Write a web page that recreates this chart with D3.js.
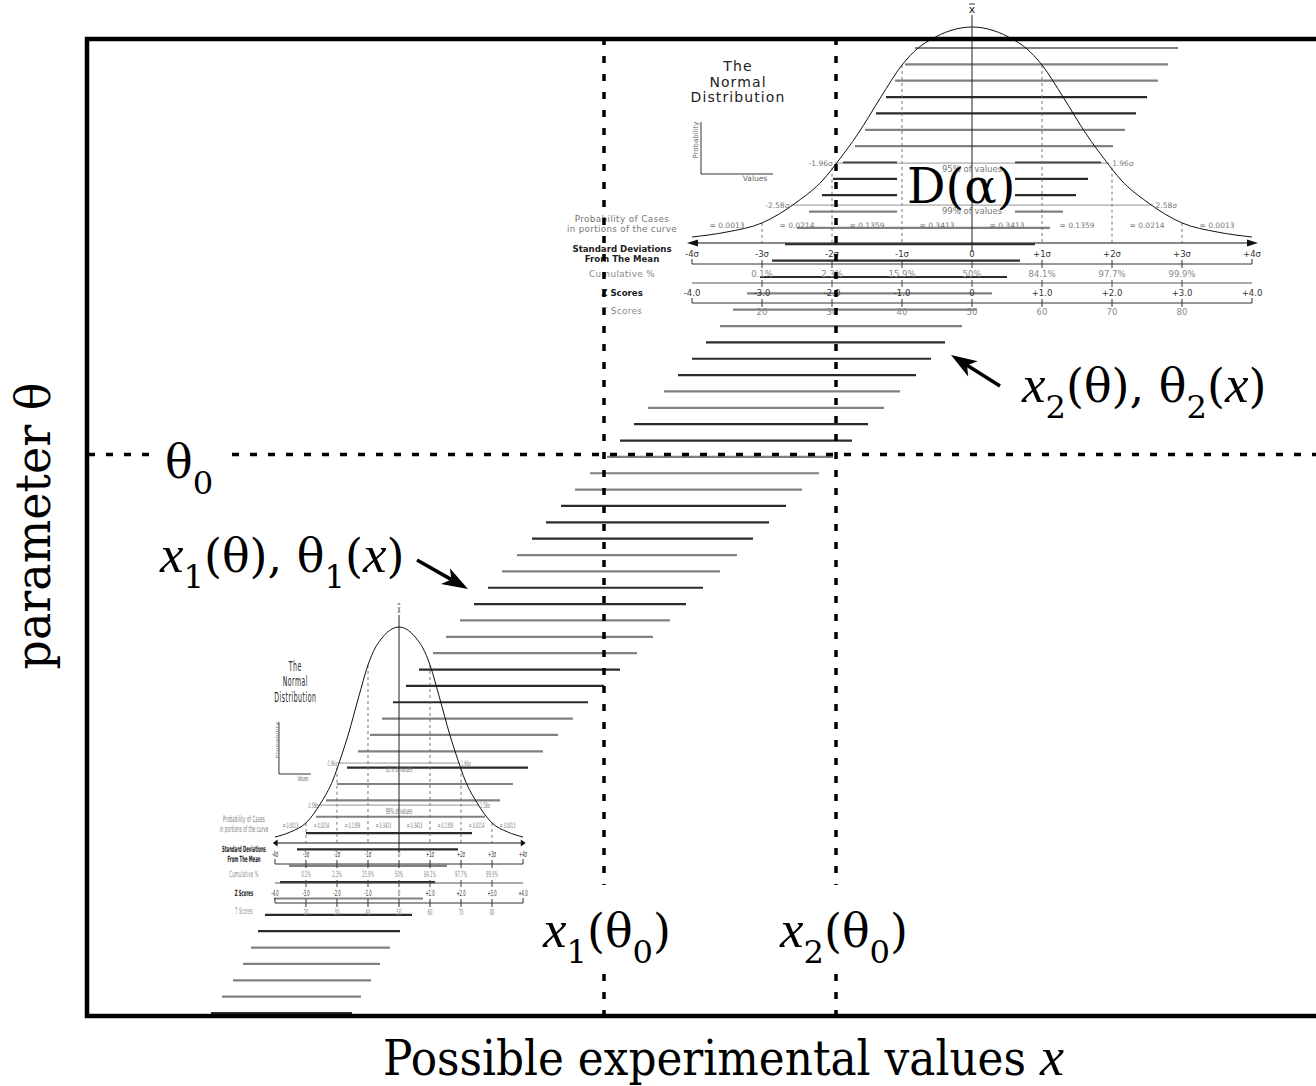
<!DOCTYPE html>
<html><head><meta charset="utf-8">
<script src="https://cdn.jsdelivr.net/npm/d3@7"></script>
<style>body{margin:0;background:#fff}</style>
</head><body>
<svg id="c" width="1316" height="1086"></svg>
<script>
// ---------------- DATA ----------------
// confidence belt: one horizontal segment per parameter value (bottom -> top)
const lowerX = [125,136,147,157,165,172,179,188,194,203,211,220,230,240,251,261,272,284,296,307,320,333,347,360,374,388,402,416,431,446,460,475,489,504,521,534,548,562,578,592,606,620,634,647,661,674,686,699,711,723,736,747,757,769,779,790,800,809,819,829];
const upperX = [266,275,285,294,304,314,326,337,349,361,372,386,399,414,427,442,457,472,487,502,518,534,551,567,584,600,617,634,651,667,683,700,716,733,747,766,782,798,814,830,845,859,876,891,906,921,934,949,964,977,990,1002,1015,1027,1039,1050,1061,1072,1082,1092];
const shade = "dggggddgdgddgggdgggdddgggddggdddgggddggdddgggdddggdddggddggg".split("");
const theta0 = 34.15;
const x1Theta0 = 518, x2Theta0 = 750;

// normal distribution inset
const titleLines = ["The","Normal","Distribution"];
const sigmaLabels = ["-4σ","-3σ","-2σ","-1σ","0","+1σ","+2σ","+3σ","+4σ"];
const probLabels = ["= 0.0013","= 0.0214","= 0.1359","= 0.3413","= 0.3413","= 0.1359","= 0.0214","= 0.0013"];
const cumLabels = ["0.1%","2.3%","15.9%","50%","84.1%","97.7%","99.9%"];
const zLabels = ["-4.0","-3.0","-2.0","-1.0","0","+1.0","+2.0","+3.0","+4.0"];
const tLabels = ["20","30","40","50","60","70","80"];
const curveZ = [-4,-3.5,-3,-2.5,-2.13,-1.9,-1.64,-1.3,-1,-0.77,-0.6,0,0.6,0.77,1,1.3,1.64,1.9,2.13,2.5,3,3.5,4];
const curveH = [0,0.024,0.067,0.167,0.271,0.367,0.486,0.667,0.819,0.90,0.938,1,0.938,0.90,0.819,0.667,0.486,0.367,0.271,0.167,0.067,0.024,0];
const guideZ = [-3,-2,-1,1,2,3];
const guideH = [0.067,0.33,0.819,0.819,0.33,0.067];
const intervals = [{z:1.96,h:0.352,pct:"95% of values"},{z:2.58,h:0.152,pct:"99% of values"}];

// ---------------- DRAW ----------------
const SERIF = "'DejaVu Serif', 'Liberation Serif', serif";
const ITAL = "'Liberation Serif', 'DejaVu Serif', serif";
const SANS = "'DejaVu Sans', Verdana, sans-serif";
const svg = d3.select("#c");
const xS = d3.scaleLinear().domain([0,1230]).range([86,1316]);
const tS = d3.scaleLinear().domain([0,59]).range([1013,48]);

// belt segments
svg.append("g").selectAll("line")
  .data(lowerX.map((lo,i)=>({lo, hi:upperX[i], th:i, s:shade[i]})))
  .join("line")
  .attr("x1",d=>xS(d.lo)).attr("x2",d=>xS(d.hi))
  .attr("y1",d=>tS(d.th)).attr("y2",d=>tS(d.th))
  .attr("stroke",d=>d.s==="d"?"#2b2b2b":"#818181")
  .attr("stroke-width",2.2);

// white box behind D(alpha)
svg.append("rect").attr("x",897).attr("y",157).attr("width",118).attr("height",59).attr("fill","#fff");

function drawInset(g){
  const zx = d3.scaleLinear().domain([-4,4]).range([-280,280]);
  const hy = d3.scaleLinear().domain([0,1]).range([237,27]);
  const NS = "non-scaling-stroke";
  const txt = (t,x,y,size,fill,opts={})=>{
    const e = g.append("text").attr("x",x).attr("y",y).text(t)
      .attr("font-family",SANS).attr("font-size",size).attr("fill",fill)
      .attr("text-anchor",opts.anchor||"middle");
    if(opts.bold) e.attr("font-weight","bold");
    if(opts.ls) e.attr("letter-spacing",opts.ls);
    return e;
  };
  const ln = (x1,y1,x2,y2,stroke,w,dash)=>{
    const e = g.append("line").attr("x1",x1).attr("y1",y1).attr("x2",x2).attr("y2",y2)
      .attr("stroke",stroke).attr("stroke-width",w).attr("vector-effect",NS);
    if(dash) e.attr("stroke-dasharray",dash);
    return e;
  };
  // title
  titleLines.forEach((t,i)=>txt(t,-234,71+i*15.5,14,"#222",{ls:1.1}));
  // small probability/values axes
  ln(-271,122,-271,174,"#333",1); ln(-271,174,-199,174,"#333",1);
  g.append("text").attr("transform","translate(-274,140) rotate(-90)").attr("text-anchor","middle")
    .attr("font-family",SANS).attr("font-size",7).attr("fill","#666").text("Probability");
  txt("Values",-217,181,7.5,"#666");
  // dashed guides
  guideZ.forEach((z,i)=>ln(zx(z),hy(guideH[i]),zx(z),243,"#666",0.9,"3,3"));
  // interval lines
  intervals.forEach(iv=>{
    ln(zx(-iv.z),hy(iv.h),zx(iv.z),hy(iv.h),"#888",0.9);
    txt("-"+iv.z+"σ",zx(-iv.z)-2,hy(iv.h)+3,7.5,"#777",{anchor:"end"});
    txt(iv.z+"σ",zx(iv.z)+3,hy(iv.h)+3,7.5,"#777",{anchor:"start"});
    txt(iv.pct,0,hy(iv.h)+9,8.5,"#777");
  });
  // curve
  const pts = curveZ.map((z,i)=>({z,h:curveH[i]}));
  g.append("path").attr("d",d3.line().x(d=>zx(d.z)).y(d=>hy(d.h)).curve(d3.curveMonotoneX)(pts))
    .attr("fill","none").attr("stroke","#111").attr("stroke-width",1).attr("vector-effect",NS);
  // mean axis
  ln(0,15,0,252,"#222",1);
  txt("x",0,13,11,"#222"); ln(-3,4,3,4,"#222",0.9);
  // baseline with arrows
  ln(zx(-4)-2,243,zx(4)+2,243,"#111",1.1);
  g.append("path").attr("d",`M${zx(-4)-5},243 L${zx(-4)+6},239.5 L${zx(-4)+6},246.5 Z`).attr("fill","#111");
  g.append("path").attr("d",`M${zx(4)+6},243 L${zx(4)-5},239.5 L${zx(4)-5},246.5 Z`).attr("fill","#111");
  // probability of cases row
  txt("Probability of Cases",-350,222,8.8,"#777",{ls:0.4});
  txt("in portions of the curve",-350,232,8.8,"#777",{ls:0.3});
  probLabels.forEach((t,i)=>txt(t,zx(-3.5+i),228,7.5,"#777"));
  // standard deviations row
  txt("Standard Deviations",-350,252,8.6,"#222",{bold:true});
  txt("From The Mean",-350,262,8.6,"#222",{bold:true});
  sigmaLabels.forEach((t,i)=>txt(t,zx(i-4),257,8.5,"#333"));
  ln(zx(-4),264,zx(4),264,"#333",1);
  sigmaLabels.forEach((t,i)=>{const z=i-4; if(Math.abs(z)===4) ln(zx(z),259,zx(z),264,"#333",1); else ln(zx(z),260,zx(z),268,"#333",1);});
  // cumulative row
  txt("Cumulative %",-350,277,8.8,"#888",{ls:0.4});
  cumLabels.forEach((t,i)=>txt(t,zx(i-3),277,8.5,"#888"));
  ln(zx(-4),283,zx(4),283,"#555",1);
  cumLabels.forEach((t,i)=>ln(zx(i-3),280,zx(i-3),287,"#444",1));
  // Z scores row
  txt("Z Scores",-350,296,8.6,"#222",{bold:true});
  zLabels.forEach((t,i)=>txt(t,zx(i-4),296,8.5,"#333"));
  ln(zx(-4),303,zx(4),303,"#333",1);
  zLabels.forEach((t,i)=>{const z=i-4; if(Math.abs(z)===4) ln(zx(z),298,zx(z),303,"#333",1); else ln(zx(z),299,zx(z),307,"#333",1);});
  // T scores row
  txt("T Scores",-350,314,8.8,"#888",{ls:0.4});
  tLabels.forEach((t,i)=>txt(t,zx(i-3),315,8.5,"#888"));
}
drawInset(svg.append("g").attr("transform","translate(399,600) scale(0.443,1)"));
drawInset(svg.append("g").attr("transform","translate(972,0)"));

// D(alpha)
svg.append("text").attr("x",907).attr("y",203).attr("font-family",SERIF).attr("font-size",48)
  .attr("fill","#000").text("D(α)");

// main dashed lines
const dash = {stroke:"#000", w:3.5, d:"7,11"};
[x1Theta0,x2Theta0].forEach(v=>svg.append("line").attr("x1",xS(v)).attr("x2",xS(v)).attr("y1",38).attr("y2",1016)
  .attr("stroke",dash.stroke).attr("stroke-width",dash.w).attr("stroke-dasharray",dash.d));
svg.append("line").attr("x1",88).attr("x2",1316).attr("y1",tS(theta0)).attr("y2",tS(theta0))
  .attr("stroke",dash.stroke).attr("stroke-width",dash.w).attr("stroke-dasharray",dash.d);

// label backgrounds
[[152,444,78,20],[536,885,142,83],[773,885,142,83]].forEach(r=>
  svg.append("rect").attr("x",r[0]).attr("y",r[1]).attr("width",r[2]).attr("height",r[3]).attr("fill","#fff"));

function mathLabel(x,y,parts,size){
  const t = svg.append("text").attr("x",x).attr("y",y).attr("font-family",SERIF)
    .attr("font-size",size).attr("fill","#000");
  let shift = 0;
  parts.forEach(p=>{
    const target = p.sub ? size*0.35 : 0;
    const ts = t.append("tspan").text(p.t).attr("dy",target-shift);
    shift = target;
    if(p.sub) ts.attr("font-size",size*0.7);
    if(p.it) ts.attr("font-style","italic").attr("font-family",ITAL).attr("font-size",size*1.15);
  });
  return t;
}
const X = {t:"x",it:true};
mathLabel(165,478,[{t:"θ"},{t:"0",sub:true}],46);
mathLabel(160,572,[X,{t:"1",sub:true},{t:"(θ), θ"},{t:"1",sub:true},{t:"("},X,{t:")"}],46);
mathLabel(1022,402,[X,{t:"2",sub:true},{t:"(θ), θ"},{t:"2",sub:true},{t:"("},X,{t:")"}],46);
mathLabel(543,947,[X,{t:"1",sub:true},{t:"(θ"},{t:"0",sub:true},{t:")"}],46);
mathLabel(780,947,[X,{t:"2",sub:true},{t:"(θ"},{t:"0",sub:true},{t:")"}],46);

// arrows
function arrow(x0,y0,x1,y1){
  const dx=x1-x0, dy=y1-y0, L=Math.hypot(dx,dy), ux=dx/L, uy=dy/L, px=-uy, py=ux;
  const hl=26, hw=9, notch=19;
  svg.append("line").attr("x1",x0).attr("y1",y0).attr("x2",x1-ux*notch).attr("y2",y1-uy*notch)
    .attr("stroke","#000").attr("stroke-width",3.5);
  const bx=x1-ux*hl, by=y1-uy*hl, nx=x1-ux*notch, ny=y1-uy*notch;
  svg.append("path").attr("d",`M${x1},${y1} L${bx+px*hw},${by+py*hw} L${nx},${ny} L${bx-px*hw},${by-py*hw} Z`).attr("fill","#000");
}
arrow(417,560,468,589);
arrow(1000,386,951,355);

// frame
svg.append("path").attr("d","M1330,39 H87 V1016 H1330").attr("fill","none").attr("stroke","#000").attr("stroke-width",4.5);

// axis titles (horizontally scaled to the reference widths)
function fitText(tx,ty,rot,target,str,anchor){
  const g = svg.append("g").attr("transform",`translate(${tx},${ty}) rotate(${rot})`);
  const t = g.append("text").attr("font-family",SERIF).attr("font-size",48).attr("fill","#000")
    .attr("text-anchor",anchor).text(str);
  const w = t.node().getComputedTextLength();
  t.attr("transform",`scale(${target/w},1)`);
}
fitText(50,526,-90,287,"parameter θ","middle");
fitText(383,1075,0,643,"Possible experimental values","start");
svg.append("text").attr("x",1040).attr("y",1075).attr("font-family",ITAL).attr("font-style","italic")
  .attr("font-size",54).attr("fill","#000").text("x");
</script>
</body></html>
